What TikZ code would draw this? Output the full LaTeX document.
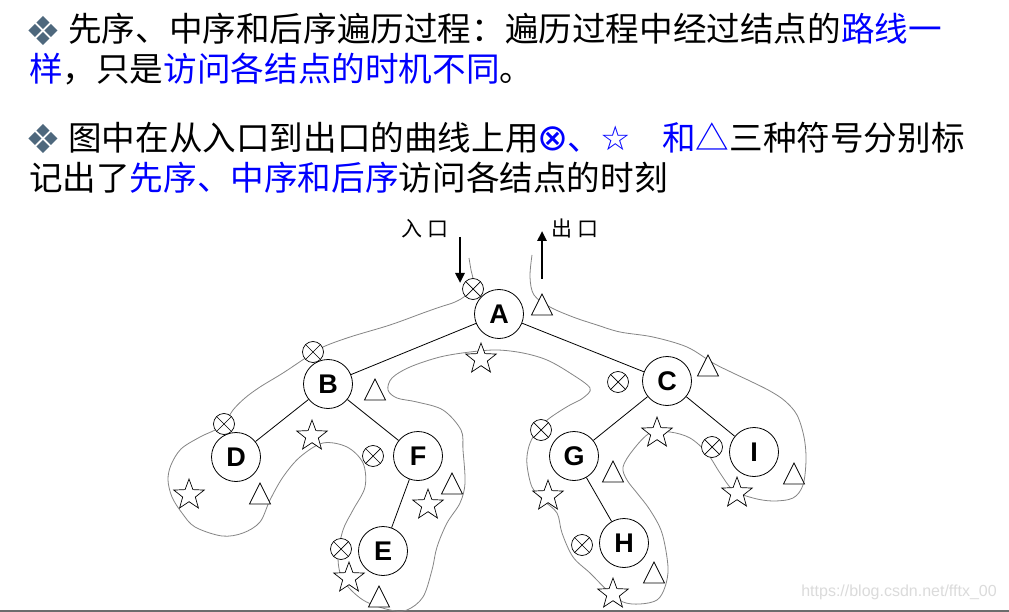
\documentclass[tikz,border=0pt]{standalone}
\usepackage{fontspec}
\usetikzlibrary{arrows.meta,shapes.geometric}
\newfontfamily\cjk{Noto Sans CJK SC}
\newfontfamily\dvs{DejaVu Sans}
\newfontfamily\lsans{Liberation Sans}
\definecolor{bulcol}{HTML}{4E687D}
\definecolor{curvecol}{HTML}{858585}
\begin{document}
\begin{tikzpicture}[x=1pt,y=-1pt,
  txt/.style={anchor=base west,inner sep=0pt,font=\cjk\fontsize{33.6}{40}\selectfont},
  bul/.style={inner sep=0pt,text=bulcol,font=\dvs\fontsize{40}{40}\selectfont},
  tn/.style={circle,draw,line width=0.8pt,minimum size=49pt,inner sep=0pt,fill=white,
    font=\lsans\bfseries\fontsize{27}{27}\selectfont},
  xm/.style={circle,draw,line width=0.7pt,minimum size=21pt,inner sep=0pt,fill=white,
    path picture={\draw[line width=0.7pt] (path picture bounding box.north west) -- (path picture bounding box.south east)
      (path picture bounding box.north east) -- (path picture bounding box.south west);}},
  sm/.style={star,star points=5,star point ratio=2.4,draw,line width=0.7pt,minimum size=32pt,inner sep=0pt,fill=white},
  tri/.pic={\draw[line width=0.7pt,fill=white] (-10.5pt,-10pt) -- (10.5pt,-10pt) -- (0pt,11pt) -- cycle;},
  lab/.style={inner sep=0pt,font=\cjk\fontsize{21}{21}\selectfont},
  bigarrow/.style={line width=2.4pt,-{Triangle[length=10pt,width=9pt]}},
  edge/.style={line width=0.8pt}
]
\useasboundingbox (0,0) rectangle (1009,612);
\fill[white] (0,0) rectangle (1009,612);

% ---------- text ----------
\node[bul] (b1) at (43.5,31) {❖};
\node[txt] (l1) at (68,41.8) {先序、中序和后序遍历过程：遍历过程中经过结点的\textcolor{blue}{路线一}};
\node[txt] (l2) at (29,81.8) {\textcolor{blue}{样}，只是\textcolor{blue}{访问各结点的时机不同}。};
\node[bul] (b2) at (43.5,139) {❖};
\node[txt] (l3) at (68,150.8) {图中在从入口到出口的曲线上用\textcolor{blue}{\makebox[29pt]{\dvs\fontsize{37}{37}\selectfont ⊗}、\makebox[29pt]{\dvs\fontsize{34}{34}\selectfont ☆}\hspace{32pt}和△}三种符号分别标};
\node[txt] (l4) at (29,190.8) {记出了\textcolor{blue}{先序、中序和后序}访问各结点的时刻};

% ---------- bottom rule and watermark ----------
\coordinate (r0) at (0,611);
\coordinate (r1) at (1009,611);
\draw[line width=1.6pt,gray!85!black] (r0) -- (r1);
\node[inner sep=0pt,text=black!14,font=\lsans\fontsize{16}{16}\selectfont] (wm) at (899,592) {https://blog.csdn.net/fftx\_00};

% ---------- traversal curve ----------
\draw[curvecol,line width=0.8pt] plot[smooth,tension=0.55] coordinates {
 (469,258) (471,270) (473,282) (466,295) (455,302) (440,307) (423,313) (390,325) (350,337)
 (323,347) (307,357) (283,373) (260,387) (245,398) (233,410) (222,426) (200,437) (181,449)
 (171,465) (168,480) (172,497) (182,513) (195,527) (222,536) (243,533) (260,522) (270,500)
 (283,477) (300,457) (323,443) (347,447) (363,463) (365,487) (353,510) (343,530) (338,557)
 (343,580) (363,600) (390,610) (407,610) (423,597) (432,570) (437,547) (447,523) (460,503)
 (465,483) (463,450) (461,430) (443,410) (417,402) (397,398) (388,390) (392,378) (410,367)
 (440,357) (470,352) (497,350) (523,353) (547,360) (570,373) (590,388) (583,398) (570,405)
 (557,413) (545,422) (533,437) (528,450) (527,465) (532,487) (543,500) (557,513) (562,533)
 (573,557) (590,573) (607,590) (623,602) (640,604) (657,600) (665,587) (668,567) (662,533)
 (650,510) (637,493) (627,480) (623,467) (633,450) (650,433) (670,432) (690,438) (707,453)
 (720,473) (733,490) (753,498) (773,501) (793,498) (803,485) (806,460) (804,437) (797,415)
 (785,401) (770,391) (750,381) (733,373) (713,363) (687,347) (653,337) (620,332) (597,325)
 (573,317) (550,307) (534,295) (530,277) (532,255)};

% ---------- tree ----------
\node[tn] (A) at (499,314) {A};
\node[tn] (B) at (328,384) {B};
\node[tn] (C) at (667,381) {C};
\node[tn] (D) at (236,457) {D};
\node[tn] (F) at (418,456) {F};
\node[tn] (E) at (383,551) {E};
\node[tn] (G) at (574,456) {G};
\node[tn] (H) at (624,543) {H};
\node[tn] (I) at (754,452) {I};
\draw[edge] (A) -- (B);
\draw[edge] (A) -- (C);
\draw[edge] (B) -- (D);
\draw[edge] (B) -- (F);
\draw[edge] (F) -- (E);
\draw[edge] (C) -- (G);
\draw[edge] (C) -- (I);
\draw[edge] (G) -- (H);

% ---------- preorder marks ----------
\node[xm] (xA) at (473,289) {};
\node[xm] (xB) at (313,352) {};
\node[xm] (xD) at (224,424) {};
\node[xm] (xF) at (373,456) {};
\node[xm] (xE) at (341,549) {};
\node[xm] (xC) at (618,382) {};
\node[xm] (xG) at (541,430) {};
\node[xm] (xH) at (582,545) {};
\node[xm] (xI) at (712,447) {};

% ---------- inorder marks ----------
\node[sm] (sA) at (481,359) {};
\node[sm] (sB) at (312,436) {};
\node[sm] (sD) at (189,495) {};
\node[sm] (sF) at (428,505) {};
\node[sm] (sE) at (349,578) {};
\node[sm] (sC) at (657,433) {};
\node[sm] (sG) at (548,496) {};
\node[sm] (sH) at (613,594) {};
\node[sm] (sI) at (737,493) {};

% ---------- postorder marks ----------
\pic at (542,305) {tri};
\pic at (375,390) {tri};
\pic at (260,494) {tri};
\pic at (452,484) {tri};
\pic at (379,597) {tri};
\pic at (708,366) {tri};
\pic at (613,472) {tri};
\pic at (654,573) {tri};
\pic at (794,474) {tri};

% ---------- entry / exit ----------
\node[lab] (inl) at (425,229) {入\hspace{6pt}口};
\node[lab] (outl) at (575,229) {出\hspace{6pt}口};
\coordinate (in0) at (460,237);
\coordinate (in1) at (460,283);
\coordinate (out0) at (542,279);
\coordinate (out1) at (542,231);
\draw[bigarrow] (in0) -- (in1);
\draw[bigarrow] (out0) -- (out1);
\end{tikzpicture}
\end{document}
